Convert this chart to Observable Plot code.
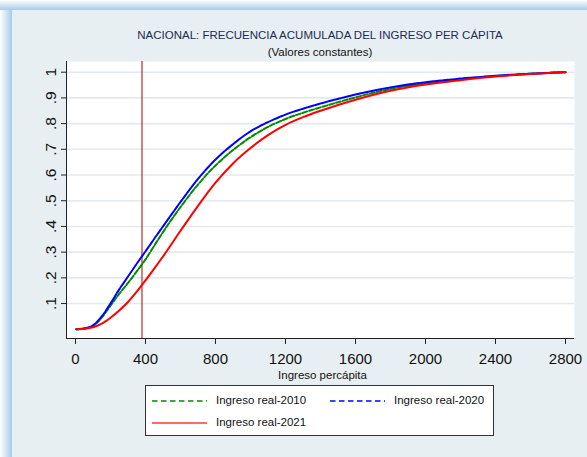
<!DOCTYPE html>
<html>
<head>
<meta charset="utf-8">
<script src="https://cdn.jsdelivr.net/npm/d3@7"></script>
<script src="https://cdn.jsdelivr.net/npm/@observablehq/plot@0.6"></script>
<style>
  html, body { margin: 0; padding: 0; background: #e8eff2; }
  #wrap { position: relative; width: 587px; height: 457px; overflow: hidden; background: #e8eff2;
          font-family: Arial, "Liberation Sans", sans-serif; }
  #edgeL { position: absolute; left: 0; top: 0; width: 12px; height: 457px;
           background: linear-gradient(to right, #ffffff 0%, #e4eff8 30%, #a7cbe8 100%); }
  #edgeT { position: absolute; left: 0; top: 0; width: 587px; height: 10px;
           background: linear-gradient(to bottom, #ffffff 0%, #e4eff8 30%, #a7cbe8 100%); }
  #chart { position: absolute; left: 0; top: 0; }
  .title { position: absolute; left: 0; width: 640px; text-align: center; font-size: 11.5px; line-height: 14px; white-space: nowrap; }
  #t1 { top: 28px; color: #1c2b52; }
  #t2 { top: 45px; color: #111; }
  #legend { position: absolute; left: 145px; top: 385px; width: 347px; height: 49px; background: #fff;
            border: 1px solid #333; }
  #legend svg { position: absolute; left: 0; top: 0; }
  .lg { position: absolute; font-size: 11.5px; line-height: 14px; color: #111; white-space: nowrap; }
</style>
</head>
<body>
<div id="wrap">
  <div id="edgeL"></div>
  <div id="edgeT"></div>
  <div id="chart"></div>
  <div class="title" id="t1">NACIONAL: FRECUENCIA ACUMULADA DEL INGRESO PER CÁPITA</div>
  <div class="title" id="t2">(Valores constantes)</div>
  <div id="legend"></div>
</div>
<script>
// ---- data ----
const income = [5, 50, 100, 150, 200, 250, 300, 350, 400, 450, 500, 600, 700, 800, 900, 1000, 1100, 1200, 1300, 1400, 1600, 1800, 2000, 2200, 2400, 2600, 2800];
const freq2010 = [0, 0.003, 0.013, 0.045, 0.092, 0.138, 0.18, 0.225, 0.272, 0.325, 0.378, 0.475, 0.563, 0.637, 0.697, 0.747, 0.787, 0.818, 0.842, 0.863, 0.902, 0.935, 0.957, 0.973, 0.985, 0.994, 1];
const freq2020 = [0, 0.003, 0.015, 0.05, 0.10, 0.155, 0.205, 0.255, 0.303, 0.352, 0.40, 0.495, 0.585, 0.66, 0.72, 0.77, 0.806, 0.835, 0.858, 0.878, 0.913, 0.941, 0.961, 0.975, 0.986, 0.994, 1];
const freq2021 = [0, 0.002, 0.008, 0.022, 0.045, 0.073, 0.106, 0.146, 0.19, 0.236, 0.283, 0.383, 0.48, 0.57, 0.645, 0.705, 0.755, 0.795, 0.825, 0.85, 0.893, 0.928, 0.952, 0.969, 0.983, 0.993, 1];
const seriesNames = ["Ingreso real-2010", "Ingreso real-2020", "Ingreso real-2021"];
const xTicks = [0, 400, 800, 1200, 1600, 2000, 2400, 2800];
const yTicks = [0.1, 0.2, 0.3, 0.4, 0.5, 0.6, 0.7, 0.8, 0.9, 1];
const yTickLabels = [".1", ".2", ".3", ".4", ".5", ".6", ".7", ".8", ".9", "1"];
const refLine = [380];
const xLabel = "Ingreso percápita";

const toRows = (arr) => income.map((x, i) => ({x, y: arr[i]}));
const font = 'Arial, "Liberation Sans", sans-serif';

const chart = Plot.plot({
  width: 587,
  height: 457,
  marginLeft: 66,
  marginRight: 13,
  marginTop: 61,
  marginBottom: 119,
  style: {background: "transparent", fontFamily: font, color: "#111"},
  x: {domain: [-51.4, 2851.4], label: null},
  y: {domain: [-0.036, 1.0416], label: null},
  marks: [
    Plot.frame({fill: "white", stroke: null}),
    Plot.ruleY(yTicks, {stroke: "#e3eaee", strokeWidth: 1.6}),
    Plot.ruleX(refLine, {stroke: "#b00000", strokeWidth: 1}),
    Plot.line(toRows(freq2010), {x: "x", y: "y", stroke: "#008a00", strokeWidth: 2, strokeDasharray: "5,2", curve: "monotone-x"}),
    Plot.line(toRows(freq2020), {x: "x", y: "y", stroke: "#0000ff", strokeWidth: 2, strokeDasharray: "6,1.2", curve: "monotone-x"}),
    Plot.line(toRows(freq2021), {x: "x", y: "y", stroke: "#ff0000", strokeWidth: 2, curve: "monotone-x"}),
    Plot.axisX({ticks: xTicks, tickFormat: (d) => String(d), tickSize: 6, tickPadding: 9, fontSize: 15, label: null, stroke: "#222"}),
    Plot.axisY({ticks: yTicks, tickFormat: (d) => yTickLabels[yTicks.indexOf(d)], tickSize: 5, tickPadding: 6,
                tickRotate: -90, textAnchor: "middle", lineAnchor: "bottom", fontSize: 15.5, label: null, stroke: "#222"}),
    Plot.ruleX([-51.4], {stroke: "#222", strokeWidth: 1}),
    Plot.ruleY([-0.036], {stroke: "#222", strokeWidth: 1}),
    Plot.text([xLabel], {text: (d) => d, frameAnchor: "bottom", dx: 2, dy: 36.5, fontSize: 11.5, lineAnchor: "middle", fill: "#111"})
  ]
});
document.getElementById("chart").appendChild(chart);

// ---- legend ----
const legend = document.getElementById("legend");
const legendItems = [
  {name: seriesNames[0], color: "#008a00", dash: "5.5,3.5", x: 6, y: 15},
  {name: seriesNames[1], color: "#0000ff", dash: "5.5,3.5", x: 184, y: 15},
  {name: seriesNames[2], color: "#ff6a6a", dash: null, x: 6, y: 37}
];
const ns = "http://www.w3.org/2000/svg";
const lsvg = document.createElementNS(ns, "svg");
lsvg.setAttribute("width", 347);
lsvg.setAttribute("height", 49);
legendItems.forEach(it => {
  const ln = document.createElementNS(ns, "line");
  ln.setAttribute("x1", it.x);
  ln.setAttribute("x2", it.x + 55);
  ln.setAttribute("y1", it.y);
  ln.setAttribute("y2", it.y);
  ln.setAttribute("stroke", it.color);
  ln.setAttribute("stroke-width", it.dash ? 1.5 : 2);
  if (it.dash) ln.setAttribute("stroke-dasharray", it.dash);
  lsvg.appendChild(ln);
  const t = document.createElement("div");
  t.className = "lg";
  t.textContent = it.name;
  t.style.left = (it.x + 64) + "px";
  t.style.top = (it.y - 8) + "px";
  legend.appendChild(t);
});
legend.appendChild(lsvg);
</script>
</body>
</html>
